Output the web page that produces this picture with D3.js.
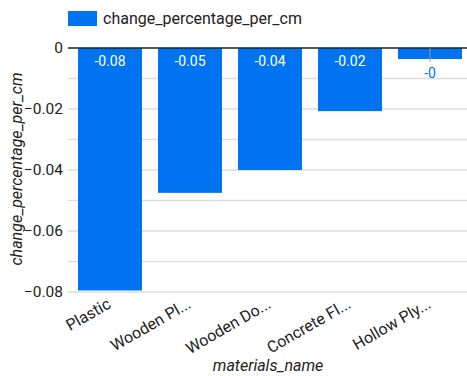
<!DOCTYPE html>
<html>
<head>
<meta charset="utf-8">
<script src="https://cdn.jsdelivr.net/npm/d3@7"></script>
<style>
body { margin: 0; background: #fff; }
text { font-family: Roboto, "Noto Sans", sans-serif; }
</style>
</head>
<body>
<svg width="467" height="376"></svg>
<script>
var categories = ["Plastic", "Wooden Pl...", "Wooden Do...", "Concrete Fl...", "Hollow Ply..."];
var values = [-0.0795, -0.0475, -0.04, -0.0207, -0.0036];
var valueLabels = ["-0.08", "-0.05", "-0.04", "-0.02", "-0"];
var yTicks = [0, -0.02, -0.04, -0.06, -0.08];
var yGrid = [-0.01, -0.02, -0.03, -0.04, -0.05, -0.06, -0.07, -0.08];
var seriesName = "change_percentage_per_cm";

var svg = d3.select("svg");
var blue = "#0073f0";

var x = d3.scaleBand().domain(categories).range([70, 470]).paddingInner(0.2).paddingOuter(0.1);
var y = d3.scaleLinear().domain([-0.08, 0]).range([292, 48]);

// grid
svg.selectAll("line.grid")
    .data(yGrid).enter()
    .append("line")
    .attr("x1", 68).attr("x2", 467)
    .attr("y1", function(d){ return y(d) })
    .attr("y2", function(d){ return y(d) })
    .attr("stroke", "#dddddd")
    .attr("stroke-width", 1.5)

// bars
svg.selectAll("rect.bar")
    .data(values).enter()
    .append("rect")
    .attr("x", function(d, i){ return x(categories[i]) })
    .attr("y", y(0))
    .attr("width", x.bandwidth())
    .attr("height", function(d){ return y(d) - y(0) })
    .attr("fill", blue)

// zero line
svg.append("line")
    .attr("x1", 68).attr("x2", 467)
    .attr("y1", y(0)).attr("y2", y(0))
    .attr("stroke", "#222").attr("stroke-width", 1.5)

// value labels
svg.selectAll("text.val")
    .data(values).enter()
    .append("text")
    .attr("x", function(d, i){ return x(categories[i]) + x.bandwidth() / 2 })
    .attr("y", function(d){ return y(d) - y(0) > 22 ? y(0) + 18 : y(d) + 19 })
    .attr("text-anchor", "middle")
    .attr("font-size", 14)
    .attr("fill", function(d){ return y(d) - y(0) > 22 ? "#fff" : blue })
    .text(function(d, i){ return valueLabels[i] })

// small tick on the short bar
values.forEach(function(d, i){
    if (y(d) - y(0) <= 22) {
        var cx = x(categories[i]) + x.bandwidth() / 2;
        svg.append("line")
            .attr("x1", cx).attr("x2", cx)
            .attr("y1", y(0)).attr("y2", y(d) + 3)
            .attr("stroke", "#999").attr("stroke-width", 1)
    }
})

// y tick labels
svg.selectAll("text.ytick")
    .data(yTicks).enter()
    .append("text")
    .attr("x", 63)
    .attr("y", function(d){ return y(d) + 5 })
    .attr("text-anchor", "end")
    .attr("font-size", 15.5)
    .attr("fill", "#222")
    .text(function(d){ return d === 0 ? "0" : d3.format(".2f")(d) })

// x tick labels
svg.selectAll("text.xtick")
    .data(categories).enter()
    .append("text")
    .attr("transform", function(d){ return "translate(" + (x(d) + x.bandwidth() / 2 + 2) + ",307) rotate(-30)" })
    .attr("text-anchor", "end")
    .attr("font-size", 16)
    .attr("fill", "#222")
    .text(function(d){ return d })

// axis titles
svg.append("text")
    .attr("x", 268).attr("y", 371)
    .attr("text-anchor", "middle")
    .attr("font-size", 16)
    .attr("font-style", "italic")
    .attr("fill", "#222")
    .text("materials_name")

svg.append("text")
    .attr("transform", "translate(22,169) rotate(-90)")
    .attr("text-anchor", "middle")
    .attr("font-size", 16)
    .attr("font-style", "italic")
    .attr("fill", "#222")
    .text(seriesName)

// legend
svg.append("rect")
    .attr("x", 68).attr("y", 11).attr("width", 29).attr("height", 15)
    .attr("fill", blue)
svg.append("text")
    .attr("x", 103).attr("y", 24)
    .attr("font-size", 16)
    .attr("fill", "#222")
    .text(seriesName)
</script>
</body>
</html>
